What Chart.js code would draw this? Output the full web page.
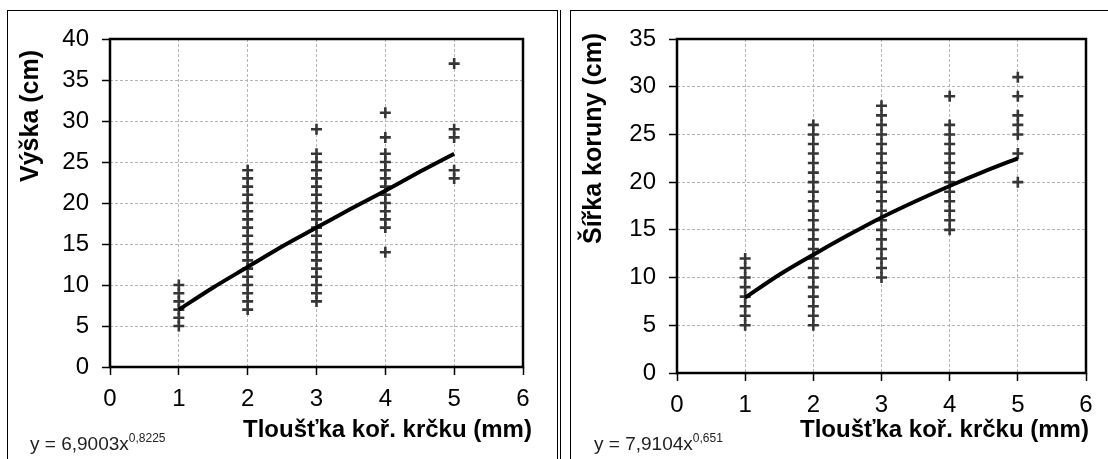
<!DOCTYPE html>
<html>
<head>
<meta charset="utf-8">
<script src="https://cdn.jsdelivr.net/npm/chart.js@4.4.1/dist/chart.umd.min.js"></script>
<style>
    body { margin: 0; background: #fff; width: 1108px; height: 459px; overflow: hidden; position: relative;
           font-family: "Liberation Sans", Arial, sans-serif; color: #000; }
    .panel { position: absolute; top: 10px; height: 470px; border: 1px solid #000; box-sizing: border-box; }
    #p1 { left: 7px; width: 551px; }
    #p2 { left: 570px; width: 560px; }
    #sep { position: absolute; left: 560px; top: 10px; width: 1px; height: 460px; background: #000; }
    canvas { position: absolute; top: 0; }
    #c1 { left: 0; }
    #c2 { left: 562px; }
    .ytitle { position: absolute; font-weight: bold; font-size: 25px; line-height: 28px; white-space: nowrap;
              transform-origin: 0 0; transform: rotate(-90deg); }
    .xtitle { position: absolute; font-weight: bold; font-size: 24px; line-height: 1; white-space: nowrap; }
    .eq { position: absolute; font-size: 19px; line-height: 1; white-space: nowrap; color: #222; }
    .eq .s { font-size: 12px; position: relative; top: -8px; }
</style>
</head>
<body>
<div class="panel" id="p1"></div>
<div id="sep"></div>
<div class="panel" id="p2"></div>

<canvas id="c1" width="550" height="459"></canvas>
<canvas id="c2" width="546" height="459"></canvas>

<div class="ytitle" style="left:15px; top:182px;">Výška (cm)</div>
<div class="ytitle" style="left:578px; top:244px;">Šířka koruny (cm)</div>
<div class="xtitle" style="left:243px; top:417px;">Tloušťka koř. krčku (mm)</div>
<div class="xtitle" style="left:800px; top:417px;">Tloušťka koř. krčku (mm)</div>
<div class="eq" style="left:30px; top:434px;">y = 6,9003x<span class="s">0,8225</span></div>
<div class="eq" style="left:594px; top:434px;">y = 7,9104x<span class="s">0,651</span></div>

<script>
// thickness of root collar (mm) - the x categories
const xValues = [1, 2, 3, 4, 5];

// height (cm) measured at each thickness
const vyska1 = [5, 6, 7, 8, 9, 10];
const vyska2 = [7, 8, 9, 10, 11, 12, 13, 14, 15, 16, 17, 18, 19, 20, 21, 22, 23, 24];
const vyska3 = [8, 9, 10, 11, 12, 13, 14, 15, 16, 17, 18, 19, 20, 21, 22, 23, 24, 25, 26, 29];
const vyska4 = [14, 17, 18, 19, 20, 21, 22, 23, 24, 25, 26, 28, 31];
const vyska5 = [23, 24, 28, 29, 37];

// crown width (cm) measured at each thickness
const sirka1 = [5, 6, 7, 8, 9, 10, 11, 12];
const sirka2 = [5, 6, 7, 8, 9, 10, 11, 12, 13, 14, 15, 16, 17, 18, 19, 20, 21, 22, 23, 24, 25, 26];
const sirka3 = [10, 11, 12, 13, 14, 15, 16, 17, 18, 19, 20, 21, 22, 23, 24, 25, 26, 27, 28];
const sirka4 = [15, 16, 17, 18, 19, 20, 21, 22, 23, 24, 25, 26, 29];
const sirka5 = [20, 23, 25, 26, 27, 29, 31];

// power trend lines
const trendX = [1, 1.5, 2, 2.5, 3, 3.5, 4, 4.5, 5];
const vyskaTrend = [7.0, 9.7, 12.2, 14.7, 17.0, 19.3, 21.5, 23.8, 26.0];
const sirkaTrend = [7.9, 10.3, 12.4, 14.4, 16.3, 18.0, 19.6, 21.1, 22.5];

// axis ticks
const xTicks = [0, 1, 2, 3, 4, 5, 6];
const vyskaTicks = [0, 5, 10, 15, 20, 25, 30, 35, 40];
const sirkaTicks = [0, 5, 10, 15, 20, 25, 30, 35];

function toPoints(groups) {
    return groups.flatMap((vals, i) => vals.map(v => ({ x: xValues[i], y: v })));
}

// black frame round the plot area
const plotFrame = {
    id: 'plotFrame',
    afterDraw(chart) {
        const a = chart.chartArea;
        const ctx = chart.ctx;
        ctx.save();
        ctx.strokeStyle = '#000';
        ctx.lineWidth = 2.5;
        ctx.strokeRect(a.left, a.top, a.right - a.left, a.bottom - a.top);
        ctx.restore();
    }
};

function makeChart(id, groups, trend, yTicks, opts) {
    const ctx = document.getElementById(id).getContext('2d');
    return new Chart(ctx, {
        type: 'scatter',
        data: {
            datasets: [
                {
                    data: trendX.map((x, i) => ({ x: x, y: trend[i] })),
                    showLine: true,
                    borderColor: '#000',
                    borderWidth: 4,
                    pointRadius: 0,
                    tension: 0.3,
                    order: 0
                },
                {
                    data: toPoints(groups),
                    pointStyle: 'cross',
                    pointRadius: 5.5,
                    borderWidth: 2.6,
                    pointBorderWidth: 2.6,
                    borderColor: '#363636',
                    pointBorderColor: '#363636',
                    order: 1
                }
            ]
        },
        options: {
            responsive: false,
            animation: false,
            layout: { padding: { left: 0, top: 39, right: opts.padRight, bottom: 0 } },
            plugins: { legend: { display: false }, tooltip: { enabled: false } },
            scales: {
                x: {
                    type: 'linear',
                    min: xTicks[0],
                    max: xTicks[xTicks.length - 1],
                    afterBuildTicks: s => { s.ticks = xTicks.map(v => ({ value: v })); },
                    afterFit: s => { s.height = opts.xHeight; },
                    grid: { color: '#b4b4b4', lineWidth: 1, tickColor: '#000', tickLength: 8, tickWidth: 1.5 },
                    border: { display: false, dash: [3, 2] },
                    ticks: { color: '#000', padding: 10, font: { family: 'Liberation Sans', size: 24 } }
                },
                y: {
                    type: 'linear',
                    min: yTicks[0],
                    max: yTicks[yTicks.length - 1],
                    afterBuildTicks: s => { s.ticks = yTicks.map(v => ({ value: v })); },
                    afterFit: s => { s.width = opts.yWidth; },
                    grid: { color: '#b4b4b4', lineWidth: 1, tickColor: '#000', tickLength: 8, tickWidth: 1.5 },
                    border: { display: false, dash: [3, 2] },
                    ticks: { color: '#000', padding: 13, font: { family: 'Liberation Sans', size: 24 } }
                }
            }
        },
        plugins: [plotFrame]
    });
}

makeChart('c1', [vyska1, vyska2, vyska3, vyska4, vyska5], vyskaTrend, vyskaTicks,
    { padRight: 27, xHeight: 92, yWidth: 110 });
makeChart('c2', [sirka1, sirka2, sirka3, sirka4, sirka5], sirkaTrend, sirkaTicks,
    { padRight: 22, xHeight: 86, yWidth: 115 });
</script>
</body>
</html>
